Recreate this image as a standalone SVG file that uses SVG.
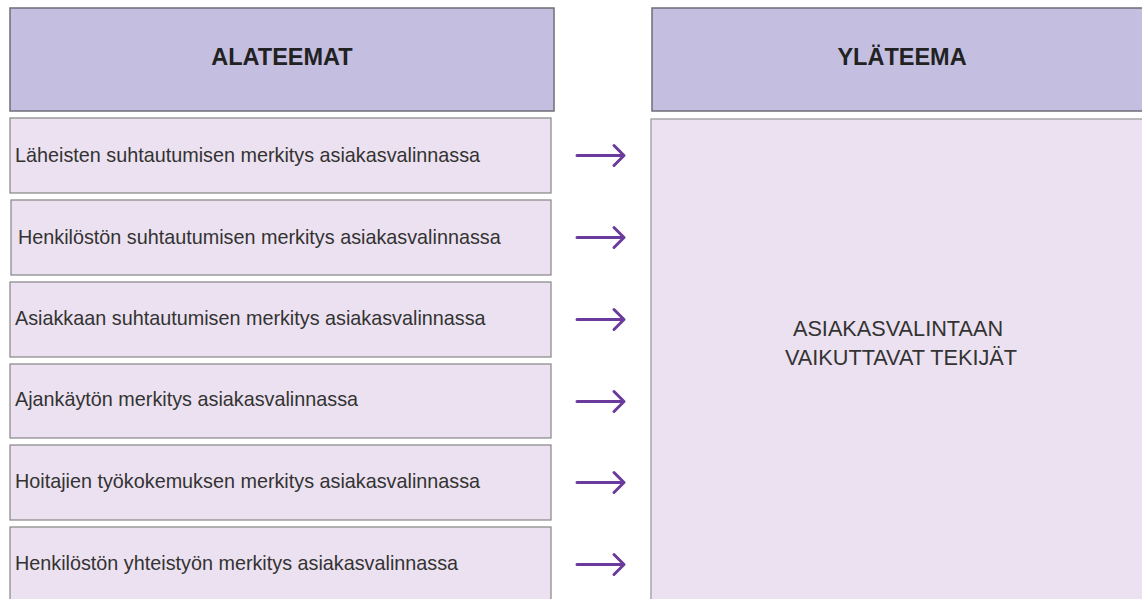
<svg xmlns="http://www.w3.org/2000/svg" width="1142" height="599" viewBox="0 0 1142 599">
  <defs>
    <style>
      .head { fill: #c4bfe1; stroke: #6f6c78; stroke-width: 1.5; }
      .item { fill: #ece1f0; stroke: #858585; stroke-width: 1.2; }
      .body { fill: #ece1f0; stroke: #a9a6ac; stroke-width: 1.5; }
      .htxt { font-family: "Liberation Sans", Arial, sans-serif; font-size: 23.5px; font-weight: bold; fill: #222; text-anchor: middle; }
      .itxt { font-family: "Liberation Sans", Arial, sans-serif; font-size: 19.8px; fill: #333; }
      .btxt { font-family: "Liberation Sans", Arial, sans-serif; font-size: 21.7px; fill: #333; text-anchor: middle; }
      .arr { fill: none; stroke: #6a3a9c; stroke-width: 3; stroke-linecap: round; stroke-linejoin: round; }
    </style>
  </defs>
  <rect width="1142" height="599" fill="#ffffff"/>

  <g id="alateemat-header">
    <rect class="head" x="10" y="8" width="544" height="103"/>
    <text class="htxt" x="282" y="65">ALATEEMAT</text>
  </g>
  <g id="ylateema-header">
    <rect class="head" x="652" y="8" width="500" height="103"/>
    <text class="htxt" x="902" y="65">YLÄTEEMA</text>
  </g>
  <g id="ylateema-body">
    <rect class="body" x="651" y="119" width="500" height="500"/>
    <text class="btxt" x="898" y="336">ASIAKASVALINTAAN</text>
    <text class="btxt" x="901" y="365">VAIKUTTAVAT TEKIJÄT</text>
  </g>

  <g id="alateema-1">
    <rect class="item" x="10" y="118" width="541" height="75"/>
    <text class="itxt" x="15" y="162">Läheisten suhtautumisen merkitys asiakasvalinnassa</text>
  </g>
  <g id="alateema-2">
    <rect class="item" x="11" y="200" width="540" height="75"/>
    <text class="itxt" x="18" y="244">Henkilöstön suhtautumisen merkitys asiakasvalinnassa</text>
  </g>
  <g id="alateema-3">
    <rect class="item" x="10" y="282" width="541" height="75"/>
    <text class="itxt" x="15" y="325">Asiakkaan suhtautumisen merkitys asiakasvalinnassa</text>
  </g>
  <g id="alateema-4">
    <rect class="item" x="10" y="364" width="541" height="74"/>
    <text class="itxt" x="15" y="406">Ajankäytön merkitys asiakasvalinnassa</text>
  </g>
  <g id="alateema-5">
    <rect class="item" x="10" y="445" width="541" height="75"/>
    <text class="itxt" x="15" y="488">Hoitajien työkokemuksen merkitys asiakasvalinnassa</text>
  </g>
  <g id="alateema-6">
    <rect class="item" x="10" y="527" width="541" height="90"/>
    <text class="itxt" x="15" y="570">Henkilöstön yhteistyön merkitys asiakasvalinnassa</text>
  </g>

  <g id="connectors">
    <path class="arr" d="M577 155.5H624M614 145.5L624 155.5L614 165.5"/>
    <path class="arr" d="M577 237.5H624M614 227.5L624 237.5L614 247.5"/>
    <path class="arr" d="M577 319.5H624M614 309.5L624 319.5L614 329.5"/>
    <path class="arr" d="M577 401.5H624M614 391.5L624 401.5L614 411.5"/>
    <path class="arr" d="M577 482.5H624M614 472.5L624 482.5L614 492.5"/>
    <path class="arr" d="M577 564.5H624M614 554.5L624 564.5L614 574.5"/>
  </g>
</svg>
